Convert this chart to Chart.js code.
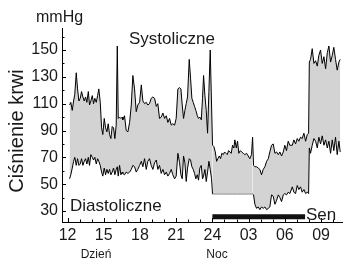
<!DOCTYPE html>
<html>
<head>
<meta charset="utf-8">
<script src="https://cdn.jsdelivr.net/npm/chart.js@4.4.1/dist/chart.umd.min.js"></script>
<style>
  html, body { margin: 0; padding: 0; background: #fff; }
  #wrap { width: 343px; height: 260px; }
</style>
</head>
<body>
<div id="wrap"><canvas id="c" width="343" height="260"></canvas></div>
<script>
// Time of each reading, in hours since midnight of day 1 (24+ = next day)
const hours = [
  12.17,12.27,12.39,12.50,12.60,12.72,12.83,12.94,13.05,13.16,
  13.27,13.38,13.49,13.60,13.72,13.82,13.93,14.05,14.15,14.26,
  14.38,14.49,14.59,14.71,14.82,14.92,15.04,15.15,15.26,15.37,
  15.48,15.59,15.70,15.81,15.92,16.03,16.12,16.20,16.31,16.42,
  16.53,16.58,16.72,16.86,17.00,17.14,17.28,17.41,17.55,17.69,
  17.82,17.97,18.11,18.24,18.38,18.52,18.65,18.79,18.93,19.07,
  19.21,19.35,19.48,19.62,19.76,19.90,20.04,20.18,20.31,20.45,
  20.59,20.72,20.87,21.00,21.14,21.28,21.39,21.50,21.61,21.72,
  21.83,21.94,22.08,22.19,22.30,22.41,22.52,22.63,22.75,22.85,
  22.96,23.08,23.18,23.27,23.38,23.49,23.60,23.71,23.82,23.93,
  24.01,24.12,24.24,24.35,24.45,24.57,24.68,24.78,24.90,25.01,
  25.12,25.23,25.34,25.45,25.56,25.67,25.78,25.86,25.98,26.08,
  26.19,26.31,26.42,26.56,26.69,26.83,26.97,27.10,27.24,27.33,
  27.41,27.52,27.66,27.80,27.93,28.07,28.21,28.35,28.49,28.63,
  28.76,28.90,29.04,29.18,29.32,29.46,29.59,29.73,29.87,30.00,
  30.14,30.28,30.42,30.62,30.75,30.89,31.03,31.16,31.30,31.44,
  31.58,31.72,31.86,31.97,32.03,32.13,32.27,32.41,32.55,32.69,
  32.82,32.96,33.10,33.24,33.38,33.52,33.65,33.79,33.93,34.06,
  34.20,34.34,34.48,34.59
];

const systolic = [
  109,111,105,112,117,133,121,112,114,119,
  115,112,115,111,119,109,112,116,110,114,
  111,116,121,111,92,87,99,92,89,95,
  87,84,93,92,84,94,153,99,100,99,
  100,98,101,90,89,96,109,131,121,104,
  109,111,124,112,110,111,109,110,114,115,
  114,108,110,99,100,103,99,101,96,99,
  94,95,94,99,121,122,121,109,99,105,
  110,115,143,129,114,111,108,105,101,99,
  100,98,114,131,116,105,88,119,150,109,
  79,78,74,67,69,71,69,73,72,74,
  73,72,75,74,73,79,77,83,77,82,
  73,75,74,73,72,73,71,69,72,85,
  64,63,63,62,61,57,61,63,67,69,
  74,79,80,73,74,72,74,71,74,79,
  75,82,79,79,83,80,84,82,85,84,
  88,82,87,88,141,143,151,140,142,138,
  146,150,140,145,136,148,153,141,146,152,
  143,135,141,143
];

const diastolic = [
  54,57,62,67,70,64,69,64,65,69,
  64,67,69,65,70,64,72,70,68,70,
  65,69,67,64,59,56,62,57,61,58,
  61,57,59,62,57,61,63,56,64,57,
  59,58,57,59,58,59,61,64,63,59,
  61,64,67,63,69,61,67,69,64,61,
  66,68,61,64,58,61,57,59,56,58,
  61,57,54,56,73,66,57,54,71,66,
  52,62,69,68,63,61,58,54,57,53,
  62,64,54,56,61,52,59,67,61,54,
  42.6,42.6,42.6,42.6,42.6,42.6,42.6,42.6,42.6,42.6,
  42.6,42.6,42.6,42.6,42.6,42.6,42.6,42.6,42.6,42.6,
  42.6,42.6,42.6,42.6,42.6,42.6,42.6,42.6,42.6,42.6,
  42,35,32,33,31,33,32,33,31,32,
  33,42,41,35,38,42,40,37,42,43,
  42,44,43,48,44,43,49,46,48,44,
  46,43,44,43,77,73,79,84,82,77,
  85,80,86,79,83,77,82,73,83,75,
  85,72,82,74
];

// Sleep period bar ("Sen")
const sleepHours = [24.0, 31.68];
const sleepLevel = [25.75, 25.75];

// Axis ticks
const xTickHours  = [12, 15, 18, 21, 24, 27, 30, 33];
const xTickLabels = ['12', '15', '18', '21', '24', '03', '06', '09'];
const xMinorHours = [12,13,14,15,16,17,18,19,20,21,22,23,24,25,26,27,28,29,30,31,32,33,34];
const yTickValues = [30, 50, 70, 90, 110, 130, 150];
const yMinorValues = [30,40,50,60,70,80,90,100,110,120,130,140,150,160];

const FONT = '"Liberation Sans", Arial, Helvetica, sans-serif';
const TXT = '#1a1a1a';

const toPts = (xs, ys) => xs.map((x, i) => ({ x: x, y: ys[i] }));

const decor = {
  id: 'decor',
  afterDraw(chart) {
    const { ctx, scales: { x, y }, chartArea: a } = chart;
    ctx.save();
    // inward tick marks
    ctx.strokeStyle = '#000';
    ctx.lineWidth = 1;
    ctx.beginPath();
    yMinorValues.forEach(v => {
      const py = Math.round(y.getPixelForValue(v)) + 0.5;
      const len = yTickValues.includes(v) ? 4 : 2.5;
      ctx.moveTo(a.left, py); ctx.lineTo(a.left + len, py);
    });
    xMinorHours.forEach(h => {
      const px = Math.round(x.getPixelForValue(h)) + 0.5;
      const len = xTickHours.includes(h) ? 4 : 2.5;
      ctx.moveTo(px, a.bottom); ctx.lineTo(px, a.bottom - len);
    });
    ctx.stroke();

    ctx.fillStyle = TXT;
    ctx.textBaseline = 'alphabetic';
    ctx.textAlign = 'left';
    ctx.font = '16px ' + FONT;
    ctx.fillText('mmHg', 36, 22);
    ctx.font = '17px ' + FONT;
    ctx.fillText('Systoliczne', 129, 44);
    ctx.fillText('Diastoliczne', 70, 211);
    ctx.fillText('Sen', 306, 220);
    ctx.font = '12px ' + FONT;
    ctx.textAlign = 'center';
    ctx.fillText('Dzień', 96, 258);
    ctx.fillText('Noc', 217, 258);

    // y axis title
    ctx.save();
    ctx.translate(17.5, 131);
    ctx.rotate(-Math.PI / 2);
    ctx.textAlign = 'center';
    ctx.textBaseline = 'middle';
    ctx.font = '20px ' + FONT;
    ctx.fillText('Ciśnienie krwi', 0, 0);
    ctx.restore();
    ctx.restore();
  }
};

new Chart(document.getElementById('c'), {
  type: 'line',
  data: {
    datasets: [
      {
        label: 'Systoliczne',
        data: toPts(hours, systolic),
        borderColor: '#000',
        borderWidth: 1,
        pointRadius: 0,
        tension: 0,
        fill: '+1',
        backgroundColor: 'rgb(211,211,211)'
      },
      {
        label: 'Diastoliczne',
        data: toPts(hours, diastolic),
        borderColor: '#000',
        borderWidth: 1,
        pointRadius: 0,
        tension: 0,
        fill: false,
        segment: {
          borderColor: c => (c.p0.parsed.x >= 24 && c.p1.parsed.x <= 27.335) ? '#8a8a8a' : undefined
        }
      },
      {
        label: 'Sen',
        data: toPts(sleepHours, sleepLevel),
        borderColor: '#111',
        borderWidth: 5,
        borderCapStyle: 'butt',
        pointRadius: 0,
        fill: false
      }
    ]
  },
  options: {
    responsive: false,
    animation: false,
    devicePixelRatio: 1,
    layout: { padding: { top: 28, right: 0, bottom: 0, left: 0 } },
    plugins: {
      legend: { display: false },
      tooltip: { enabled: false },
      filler: { drawTime: 'beforeDatasetsDraw' }
    },
    scales: {
      x: {
        type: 'linear',
        min: 11.54,
        max: 34.82,
        afterFit: s => { s.height = 38; },
        afterBuildTicks: s => { s.ticks = xTickHours.map(v => ({ value: v })); },
        ticks: {
          autoSkip: false,
          maxRotation: 0,
          padding: 4,
          color: TXT,
          font: { family: FONT, size: 16 },
          callback: v => { const i = xTickHours.indexOf(v); return i >= 0 ? xTickLabels[i] : ''; }
        },
        grid: { drawOnChartArea: false, drawTicks: false },
        border: { display: true, color: '#000', width: 1 }
      },
      y: {
        min: 21.8,
        max: 166.4,
        afterFit: s => { s.width = 62; },
        afterBuildTicks: s => { s.ticks = yTickValues.map(v => ({ value: v })); },
        ticks: {
          padding: 4,
          color: TXT,
          font: { family: FONT, size: 16 }
        },
        grid: { drawOnChartArea: false, drawTicks: false },
        border: { display: true, color: '#000', width: 1 }
      }
    }
  },
  plugins: [decor]
});
</script>
</body>
</html>
